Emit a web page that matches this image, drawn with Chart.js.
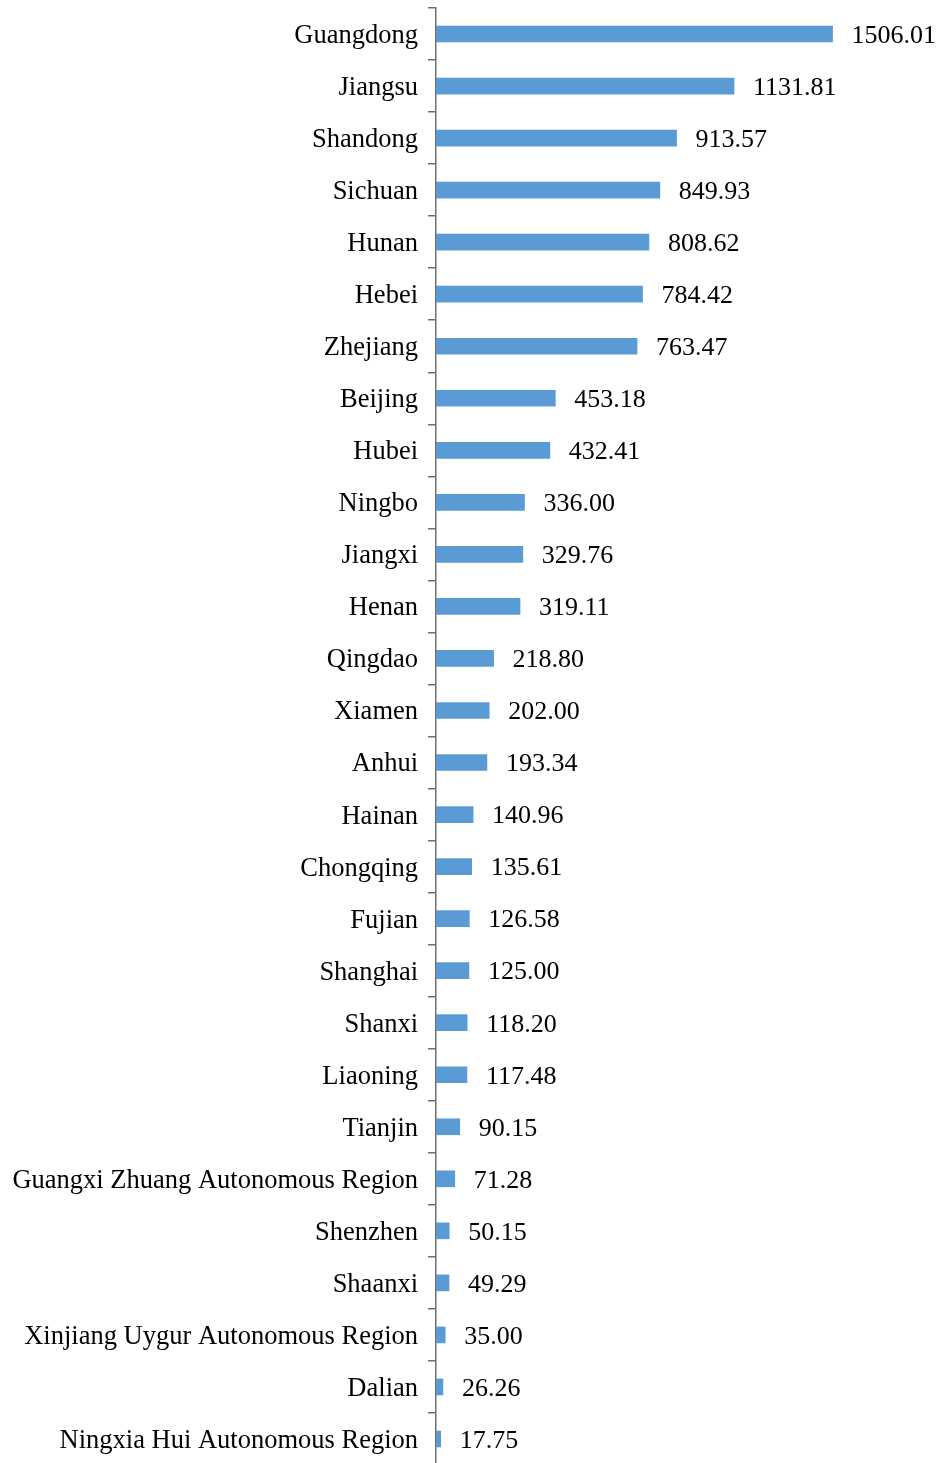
<!DOCTYPE html>
<html>
<head>
<meta charset="utf-8">
<script src="https://cdn.jsdelivr.net/npm/chart.js@4"></script>
<style>
html,body{margin:0;padding:0;background:#fff;overflow:hidden;}
#wrap{width:940px;height:1465px;position:relative;}
</style>
</head>
<body>
<div id="wrap"><canvas id="c"></canvas></div>
<script>
const categories = ["Guangdong","Jiangsu","Shandong","Sichuan","Hunan","Hebei","Zhejiang","Beijing","Hubei","Ningbo","Jiangxi","Henan","Qingdao","Xiamen","Anhui","Hainan","Chongqing","Fujian","Shanghai","Shanxi","Liaoning","Tianjin","Guangxi Zhuang Autonomous Region","Shenzhen","Shaanxi","Xinjiang Uygur Autonomous Region","Dalian","Ningxia Hui Autonomous Region"];
const values = [1506.01,1131.81,913.57,849.93,808.62,784.42,763.47,453.18,432.41,336.00,329.76,319.11,218.80,202.00,193.34,140.96,135.61,126.58,125.00,118.20,117.48,90.15,71.28,50.15,49.29,35.00,26.26,17.75];

const FONT = "'Liberation Serif','Times New Roman',serif";

const valueLabels = {
  id: 'valueLabels',
  afterDatasetsDraw(chart) {
    const ctx = chart.ctx;
    const meta = chart.getDatasetMeta(0);
    ctx.save();
    ctx.font = "26px " + FONT;
    ctx.fillStyle = "#000";
    ctx.textAlign = "left";
    ctx.textBaseline = "middle";
    meta.data.forEach((bar, i) => {
      ctx.fillText(values[i].toFixed(2), bar.x + 19, bar.y + 2);
    });
    ctx.restore();
  }
};

new Chart(document.getElementById('c'), {
  type: 'bar',
  data: {
    labels: categories,
    datasets: [{
      data: values,
      backgroundColor: '#5B9BD5',
      borderWidth: 0,
      barThickness: 16
    }]
  },
  options: {
    indexAxis: 'y',
    responsive: true,
    maintainAspectRatio: false,
    animation: false,
    layout: { padding: { top: 8, right: 30, bottom: 0, left: 0 } },
    plugins: { legend: { display: false }, tooltip: { enabled: false } },
    scales: {
      x: { display: false, min: 0, max: 1800 },
      y: {
        afterFit(scale) { scale.width = 436; scale.paddingTop = 0; scale.paddingBottom = 0; },
        border: { display: true, color: '#6f6f6f', width: 1.5 },
        grid: { offset: true, drawOnChartArea: false, drawTicks: true, tickLength: 8, color: '#6f6f6f', lineWidth: 1.5 },
        ticks: { color: '#000', font: { family: FONT, size: 26.5 }, padding: 10, autoSkip: false, labelOffset: 2 }
      }
    }
  },
  plugins: [valueLabels]
});
</script>
</body>
</html>
